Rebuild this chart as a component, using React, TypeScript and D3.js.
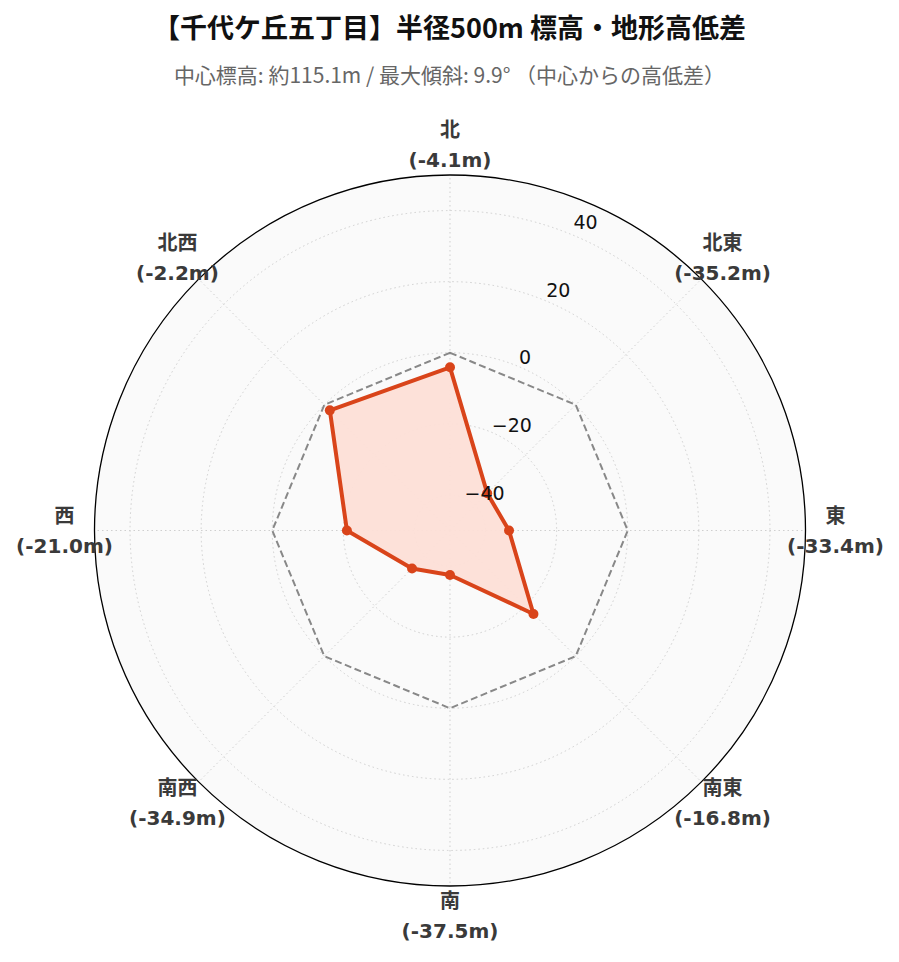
import React, { useEffect, useRef } from 'react';
import * as d3 from 'd3';

const directions = ['北', '北東', '東', '南東', '南', '南西', '西', '北西'];
const heightDiffs = [-4.1, -35.2, -33.4, -16.8, -37.5, -34.9, -21.0, -2.2];
const radialTicks = [-40, -20, 0, 20, 40];
const referenceLevel = 0;

const titleText = '【千代ケ丘五丁目】半径500m 標高・地形高低差';
const subtitleText = '中心標高: 約115.1m / 最大傾斜: 9.9° （中心からの高低差）';

const W = 899;
const H = 962;

export default function App() {
  const ref = useRef<SVGSVGElement>(null);

  useEffect(() => {
    if (!ref.current) return;
    const root = d3.select(ref.current);
    root.selectAll('*').remove();

    const cx = 450;
    const cy = 530.5;
    const R = 355.5;
    const cjk = '"Noto Sans CJK JP", "DejaVu Sans", sans-serif';
    const lab = '"DejaVu Sans", "Noto Sans CJK JP", sans-serif';

    root.append('rect').attr('width', W).attr('height', H).attr('fill', '#fff');

    // titles
    root.append('text')
      .attr('x', W / 2).attr('y', 38)
      .attr('text-anchor', 'middle')
      .attr('font-family', cjk).attr('font-weight', 'bold')
      .attr('font-size', 27).attr('fill', '#111')
      .text(titleText);

    root.append('text')
      .attr('x', W / 2).attr('y', 83)
      .attr('text-anchor', 'middle')
      .attr('font-family', cjk)
      .attr('font-size', 21).attr('fill', '#666')
      .text(subtitleText);

    const g = root.append('g').attr('transform', `translate(${cx},${cy})`);

    const r = d3.scaleLinear().domain([-50, 50]).range([0, R]);
    const angle = d3.scalePoint<string>()
      .domain(directions)
      .range([0, 2 * Math.PI * (directions.length - 1) / directions.length]);

    const px = (a: number, rad: number) => rad * Math.sin(a);
    const py = (a: number, rad: number) => -rad * Math.cos(a);

    // background
    g.append('circle').attr('r', R).attr('fill', '#fafafa');

    // radial grid
    radialTicks.forEach(t => {
      g.append('circle')
        .attr('r', r(t))
        .attr('fill', 'none')
        .attr('stroke', '#cfcfcf')
        .attr('stroke-width', 1)
        .attr('stroke-dasharray', '1.5,3');
    });

    // angular grid
    directions.forEach(d => {
      const a = angle(d)!;
      g.append('line')
        .attr('x1', 0).attr('y1', 0)
        .attr('x2', px(a, R)).attr('y2', py(a, R))
        .attr('stroke', '#cfcfcf')
        .attr('stroke-width', 1)
        .attr('stroke-dasharray', '1.5,3');
    });

    // reference octagon at 0
    const refLine = d3.lineRadial<string>()
      .angle(d => angle(d)!)
      .radius(() => r(referenceLevel))
      .curve(d3.curveLinearClosed);
    g.append('path')
      .attr('d', refLine(directions))
      .attr('fill', 'none')
      .attr('stroke', '#888')
      .attr('stroke-width', 2)
      .attr('stroke-dasharray', '7,3.5');

    // data
    const dataLine = d3.lineRadial<number>()
      .angle((_, i) => angle(directions[i])!)
      .radius(v => r(v))
      .curve(d3.curveLinearClosed);
    g.append('path')
      .attr('d', dataLine(heightDiffs))
      .attr('fill', '#fddfd7')
      .attr('fill-opacity', 0.95)
      .attr('stroke', '#d9441a')
      .attr('stroke-width', 4)
      .attr('stroke-linejoin', 'round');

    heightDiffs.forEach((v, i) => {
      const a = angle(directions[i])!;
      g.append('circle')
        .attr('cx', px(a, r(v)))
        .attr('cy', py(a, r(v)))
        .attr('r', 5)
        .attr('fill', '#d9441a');
    });

    // outer spine
    g.append('circle').attr('r', R).attr('fill', 'none').attr('stroke', '#000').attr('stroke-width', 1.3);

    // radial tick labels (at 22.5deg, left/bottom aligned)
    const la = Math.PI / 8;
    radialTicks.forEach(t => {
      const rr = r(t);
      g.append('text')
        .attr('x', px(la, rr) + 1)
        .attr('y', py(la, rr) - (0.03 * rr - 3.5))
        .attr('text-anchor', 'start')
        .attr('font-family', lab)
        .attr('font-size', 19)
        .attr('fill', '#111')
        .text(t < 0 ? `\u2212${Math.abs(t)}` : `${t}`);
    });

    // direction labels
    directions.forEach((d, i) => {
      const a = angle(d)!;
      const x = px(a, 385.5);
      const y = py(a, 385.5);
      const t = g.append('text')
        .attr('text-anchor', 'middle')
        .attr('font-family', lab)
        .attr('font-weight', 'bold')
        .attr('font-size', 20)
        .attr('fill', '#3a3a3a');
      t.append('tspan').attr('x', x).attr('y', y - 15).attr('dy', '0.35em').text(d);
      t.append('tspan').attr('x', x).attr('y', y + 15).attr('dy', '0.35em').text(`(${heightDiffs[i].toFixed(1)}m)`);
    });
  }, []);

  return (
    <div style={{ position: 'absolute', left: 0, top: 0 }}>
      <svg ref={ref} width={W} height={H} style={{ display: 'block' }} />
    </div>
  );
}
